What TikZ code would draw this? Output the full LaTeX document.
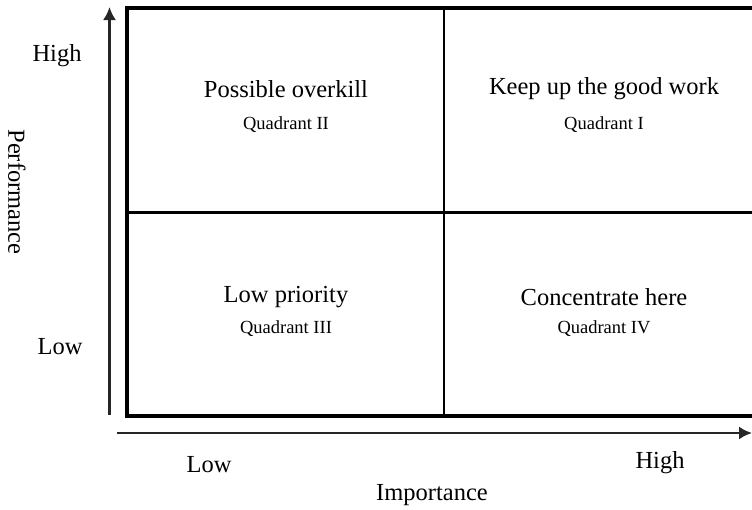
\documentclass[tikz,border=0pt]{standalone}
\usepackage{fontspec}
\setmainfont{Liberation Serif}
\usetikzlibrary{arrows.meta}
\begin{document}
\begin{tikzpicture}[x=1pt,y=-1pt,
  title/.style={font=\fontsize{24.5}{28}\selectfont, text=black, inner sep=0pt},
  sub/.style={font=\fontsize{18.5}{21}\selectfont, text=black, inner sep=0pt},
  axislabel/.style={font=\fontsize{24.5}{28}\selectfont, text=black, inner sep=0pt},
  frame/.style={line width=3.4pt, black},
  divider/.style={line width=2.8pt, black},
  axis/.style={line width=2.3pt, black!85, -{Latex[length=13pt,width=13pt]}}]
\useasboundingbox (0,0) rectangle (752,509);

% outer frame (open on the right)
\coordinate (tr) at (752,8);
\coordinate (tl) at (127,8);
\coordinate (bl) at (127,416);
\coordinate (br) at (752,416);
\draw[frame] (tr) -- (tl) -- (bl) -- (br);

% dividers
\coordinate (vt) at (444,8);
\coordinate (vb) at (444,416);
\coordinate (hl) at (127,212.5);
\coordinate (hr) at (752,212.5);
\draw[divider] (vt) -- (vb);
\draw[divider] (hl) -- (hr);

% axes
\coordinate (yo) at (109.5,415);
\coordinate (ye) at (109.5,7);
\coordinate (xo) at (117,433);
\coordinate (xe) at (752,433);
\draw[axis] (yo) -- (ye);
\draw[axis] (xo) -- (xe);

% quadrant texts
\node[title] (q2t) at (286,89) {Possible overkill};
\node[sub]   (q2s) at (286,125) {Quadrant II};
\node[title] (q1t) at (604,89) {Keep up the good work};
\node[sub]   (q1s) at (604,125) {Quadrant I};
\node[title] (q3t) at (286,297) {Low priority};
\node[sub]   (q3s) at (286,329) {Quadrant III};
\node[title] (q4t) at (604,297) {Concentrate here};
\node[sub]   (q4s) at (604,329) {Quadrant IV};

% axis labels
\node[axislabel] (yhigh) at (57,56) {High};
\node[axislabel] (ylow)  at (60,347) {Low};
\node[axislabel, rotate=-90] (ytitle) at (17,192) {Performance};
\node[axislabel] (xlow)  at (209,465) {Low};
\node[axislabel] (xhigh) at (660,463) {High};
\node[axislabel] (xtitle) at (432,495) {Importance};
\end{tikzpicture}
\end{document}
